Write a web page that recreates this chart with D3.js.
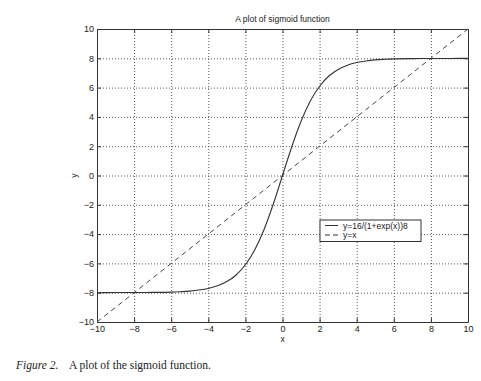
<!DOCTYPE html>
<html>
<head>
<meta charset="utf-8">
<script src="https://cdn.jsdelivr.net/npm/d3@7"></script>
<style>
  body { margin: 0; background: #fff; }
  svg { display: block; }
</style>
</head>
<body>
<div id="chart"></div>
<script>
// values
const xs = [-10, -9, -8, -7, -6, -5.5, -5, -4.5, -4, -3.5, -3, -2.5, -2, -1.5, -1, -0.5, 0,
            0.5, 1, 1.5, 2, 2.5, 3, 3.5, 4, 4.5, 5, 5.5, 6, 7, 8, 9, 10];
const sigmoidY = [-8, -7.99, -7.99, -7.98, -7.96, -7.93, -7.89, -7.82, -7.71, -7.53, -7.24, -6.79, -6.09, -5.08, -3.7, -1.96, 0,
                  1.96, 3.7, 5.08, 6.09, 6.79, 7.24, 7.53, 7.71, 7.82, 7.89, 7.93, 7.96, 7.98, 7.99, 7.99, 8];
const lineX = [-10, 10];
const lineY = [-10, 10];
const tickValues = [-10, -8, -6, -4, -2, 0, 2, 4, 6, 8, 10];

const width = 481, height = 381;
const m = { left: 97, right: 468, top: 29, bottom: 322 };
const sans = "Liberation Sans, Arial, sans-serif";

const svg = d3.select("#chart").append("svg")
    .attr("width", width)
    .attr("height", height);

const x = d3.scaleLinear().domain([-10, 10]).range([m.left, m.right]);
const y = d3.scaleLinear().domain([-10, 10]).range([m.bottom, m.top]);
const fmt = d => d < 0 ? "\u2212" + Math.abs(d) : String(d);

// dotted grid
const grid = svg.append("g").attr("stroke", "#555").attr("stroke-width", 1).attr("stroke-dasharray", "1,2");
grid.selectAll(".gx").data(tickValues.slice(1, -1)).enter().append("line")
    .attr("x1", d => x(d) + 0.5).attr("x2", d => x(d) + 0.5)
    .attr("y1", m.top).attr("y2", m.bottom);
grid.selectAll(".gy").data(tickValues.slice(1, -1)).enter().append("line")
    .attr("y1", d => y(d) + 0.5).attr("y2", d => y(d) + 0.5)
    .attr("x1", m.left).attr("x2", m.right);

// axes, ticks pointing inward like matlab
svg.append("g").attr("transform", `translate(0,${m.bottom})`)
    .call(d3.axisBottom(x).tickValues(tickValues).tickFormat(fmt).tickSizeInner(-4).tickSizeOuter(0).tickPadding(4));
svg.append("g").attr("transform", `translate(${m.left},0)`)
    .call(d3.axisLeft(y).tickValues(tickValues).tickFormat(fmt).tickSizeInner(-4).tickSizeOuter(0).tickPadding(3));
svg.append("g").attr("transform", `translate(0,${m.top})`)
    .call(d3.axisTop(x).tickValues(tickValues).tickFormat("").tickSizeInner(-4).tickSizeOuter(0));
svg.append("g").attr("transform", `translate(${m.right},0)`)
    .call(d3.axisRight(y).tickValues(tickValues).tickFormat("").tickSizeInner(-4).tickSizeOuter(0));
svg.selectAll(".domain, .tick line").attr("stroke", "#333");
svg.selectAll(".tick text")
    .attr("font-family", sans).attr("font-size", 9).attr("fill", "#222");

// y = x dashed
svg.append("path")
    .datum(lineX.map((d, i) => [d, lineY[i]]))
    .attr("fill", "none").attr("stroke", "#444").attr("stroke-width", 1)
    .attr("stroke-dasharray", "5,4")
    .attr("d", d3.line().x(d => x(d[0])).y(d => y(d[1])));

// sigmoid curve
svg.append("path")
    .datum(xs.map((d, i) => [d, sigmoidY[i]]))
    .attr("fill", "none").attr("stroke", "#333").attr("stroke-width", 1.1)
    .attr("d", d3.line().curve(d3.curveMonotoneX).x(d => x(d[0])).y(d => y(d[1])));

// title and axis labels
svg.append("text").attr("x", (m.left + m.right) / 2).attr("y", 22)
    .attr("text-anchor", "middle").attr("font-family", sans).attr("font-size", 8.5)
    .attr("fill", "#222").text("A plot of sigmoid function");
svg.append("text").attr("x", (m.left + m.right) / 2).attr("y", 342)
    .attr("text-anchor", "middle").attr("font-family", sans).attr("font-size", 8.5)
    .attr("fill", "#222").text("x");
svg.append("text").attr("transform", `translate(77,${y(0)}) rotate(-90)`)
    .attr("text-anchor", "middle").attr("font-family", sans).attr("font-size", 8.5)
    .attr("fill", "#222").text("y");

// legend
const lg = svg.append("g").attr("transform", "translate(320,220)");
lg.append("rect").attr("width", 101).attr("height", 21.5)
    .attr("fill", "#fff").attr("stroke", "#333");
const legendItems = [
    { label: "y=16/(1+exp(x))8", dash: null },
    { label: "y=x", dash: "5,3" }
];
legendItems.forEach((item, i) => {
    const ly = 5.5 + i * 9.5;
    lg.append("line").attr("x1", 5).attr("x2", 18).attr("y1", ly).attr("y2", ly)
        .attr("stroke", "#333").attr("stroke-dasharray", item.dash);
    lg.append("text").attr("x", 23).attr("y", ly + 3)
        .attr("font-family", sans).attr("font-size", 8.5).attr("fill", "#222")
        .text(item.label);
});

// figure caption
const cap = svg.append("text").attr("x", 16).attr("y", 369)
    .attr("font-family", "Liberation Serif, Times New Roman, serif").attr("font-size", 11.5).attr("fill", "#222");
cap.append("tspan").attr("font-style", "italic").text("Figure 2.");
cap.append("tspan").attr("x", 69).text("A plot of the sigmoid function.");
</script>
</body>
</html>
